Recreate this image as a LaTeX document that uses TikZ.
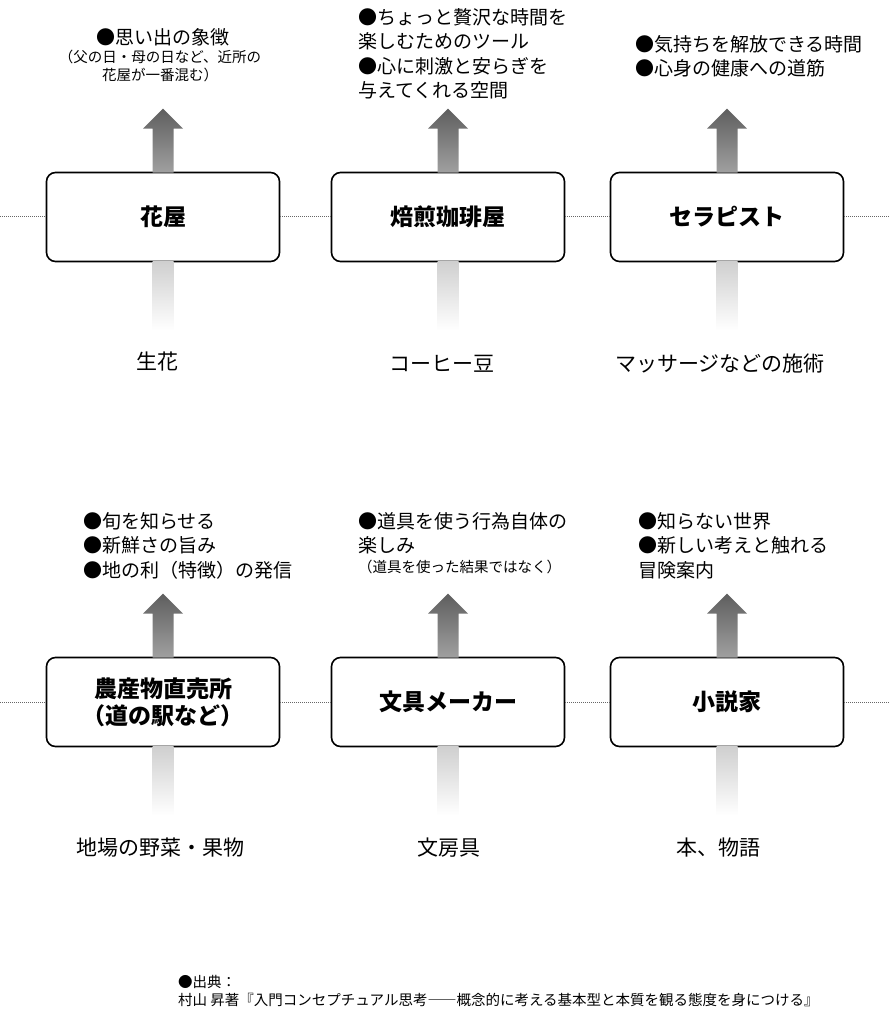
\documentclass[tikz,border=0pt]{standalone}
\usepackage{fontspec}
\setmainfont{Noto Sans CJK JP}
\usetikzlibrary{calc}
\definecolor{arrdark}{HTML}{5E5E5E}
\definecolor{arrmid}{HTML}{A0A0A0}
\definecolor{arrlight}{HTML}{CFCFCF}
\tikzset{
  job/.style={rectangle, draw=black, line width=1.6pt, fill=white, rounded corners=9pt,
    minimum width=233pt, minimum height=89pt, font=\fontsize{23}{27}\selectfont\bfseries, align=center},
  note/.style={font=\fontsize{19}{24.5}\selectfont, align=left, inner sep=0pt},
  small/.style={font=\fontsize{14.5}{18}\selectfont, align=center, inner sep=0pt},
  input/.style={font=\fontsize{21}{24}\selectfont, inner sep=0pt},
  link/.style={densely dotted, gray!80!black, line width=1pt}
}
\newcommand{\valuearrow}[1]{%
  \shade[top color=arrdark, bottom color=arrmid]
    ($(#1.north)+(-10.5,1)$) -- ($(#1.north)+(-10.5,-43)$) -- ($(#1.north)+(-20,-43)$)
    -- ($(#1.north)+(0,-63)$) -- ($(#1.north)+(20,-43)$) -- ($(#1.north)+(10.5,-43)$)
    -- ($(#1.north)+(10.5,1)$) -- cycle;
  \shade[top color=arrlight, bottom color=white]
    ($(#1.south)+(-10.5,-1)$) rectangle ($(#1.south)+(10.5,68)$);}
\begin{document}
\begin{tikzpicture}[x=1pt, y=-1pt]
  \useasboundingbox (0,0) rectangle (889,1024);

  % Upper row
  \coordinate (l1) at (0,217);
  \coordinate (r1) at (889,217);
  \node[job] (flower) at (163,217) {花屋};
  \node[job] (coffee) at (448,217) {焙煎珈琲屋};
  \node[job] (therapist) at (727,217) {セラピスト};
  \draw[link] (l1) -- (flower);
  \draw[link] (flower) -- (coffee);
  \draw[link] (coffee) -- (therapist);
  \draw[link] (therapist) -- (r1);
  \valuearrow{flower}
  \valuearrow{coffee}
  \valuearrow{therapist}

  \node[note, anchor=north] (flowernote) at (163,28) {●思い出の象徴};
  \node[small, anchor=north] (flowersub) at (160,50) {（父の日・母の日など、近所の\\花屋が一番混む）};
  \node[note, anchor=north west] (coffeenote) at (358,8) {●ちょっと贅沢な時間を\\楽しむためのツール\\●心に刺激と安らぎを\\与えてくれる空間};
  \node[note, anchor=north west] (therapynote) at (635,35) {●気持ちを解放できる時間\\●心身の健康への道筋};

  \node[input] (flowerin) at (157,362) {生花};
  \node[input] (coffeein) at (442,364) {コーヒー豆};
  \node[input] (therapyin) at (720,364) {マッサージなどの施術};

  % Lower row
  \coordinate (l2) at (0,702);
  \coordinate (r2) at (889,702);
  \node[job] (farm) at (163,702) {農産物直売所\\（道の駅など）};
  \node[job] (stationery) at (448,702) {文具メーカー};
  \node[job] (novelist) at (727,702) {小説家};
  \draw[link] (l2) -- (farm);
  \draw[link] (farm) -- (stationery);
  \draw[link] (stationery) -- (novelist);
  \draw[link] (novelist) -- (r2);
  \valuearrow{farm}
  \valuearrow{stationery}
  \valuearrow{novelist}

  \node[note, anchor=north west] (farmnote) at (83,512) {●旬を知らせる\\●新鮮さの旨み\\●地の利（特徴）の発信};
  \node[note, anchor=north west] (stationerynote) at (358,512) {●道具を使う行為自体の\\楽しみ};
  \node[small, anchor=north west] (stationerysub) at (358,560) {（道具を使った結果ではなく）};
  \node[note, anchor=north west] (novelnote) at (638,512) {●知らない世界\\●新しい考えと触れる\\冒険案内};

  \node[input] (farmin) at (160,848) {地場の野菜・果物};
  \node[input] (stationeryin) at (449,848) {文房具};
  \node[input] (novelin) at (718,848) {本、物語};

  % Source
  \node[small, align=left, anchor=north west] (source) at (178,975)
    {●出典：\\村山 昇著『入門コンセプチュアル思考――概念的に考える基本型と本質を観る態度を身につける』};
\end{tikzpicture}
\end{document}
